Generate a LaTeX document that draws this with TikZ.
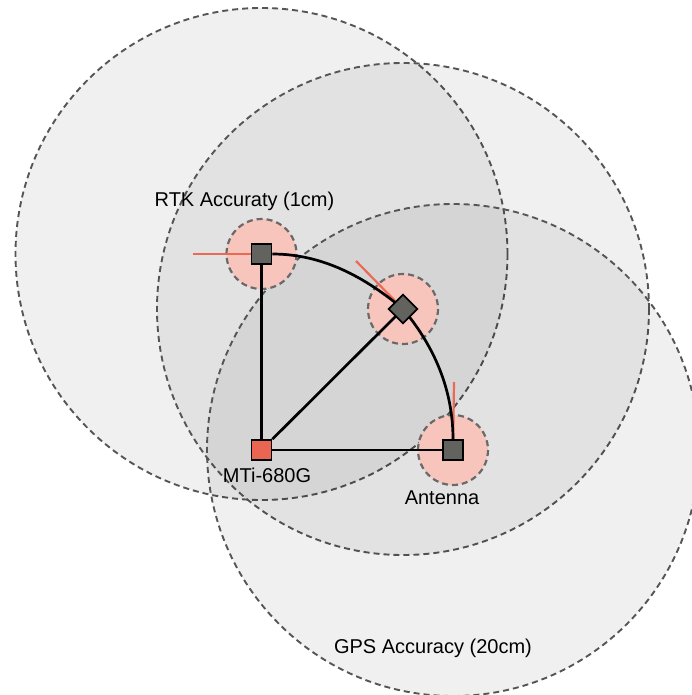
\documentclass[tikz,border=0pt]{standalone}
\usepackage{fontspec}
\setmainfont{Liberation Sans}
\begin{document}
\begin{tikzpicture}[x=1pt,y=-1pt,
  bigcirc/.style={draw={rgb,255:red,85;green,85;blue,85},line width=1.9pt,dash pattern=on 6pt off 4pt,fill=black,fill opacity=0.06},
  smallcirc/.style={draw={rgb,255:red,105;green,105;blue,105},line width=2.2pt,dash pattern=on 6pt off 4pt,fill={rgb,255:red,248;green,197;blue,189}},
  sensor/.style={draw=black,line width=1.6pt,fill={rgb,255:red,98;green,99;blue,94},minimum size=20pt,inner sep=0pt},
  imu/.style={draw=black,line width=1.6pt,fill={rgb,255:red,234;green,102;blue,82},minimum size=20pt,inner sep=0pt},
  heading/.style={draw={rgb,255:red,234;green,106;blue,85},line width=2.2pt},
  link/.style={draw=black,line width=2.7pt},
  lbl/.style={font=\fontsize{20}{24}\selectfont,inner sep=0pt}]
\useasboundingbox (0,0) rectangle (691,695);
% accuracy circles
\path[bigcirc] (261.5,254) circle (246);
\path[bigcirc] (403,309) circle (246);
\path[bigcirc] (453,450) circle (246);
\path[smallcirc] (261.5,254) circle (35);
\path[smallcirc] (403,309) circle (35);
\path[smallcirc] (453,450) circle (35);
% heading lines
\coordinate (hA) at (193,254);
\coordinate (hB) at (356,261);
\coordinate (hC) at (454,382);
\coordinate (cA) at (261.5,254);
\coordinate (cB) at (403,309);
\coordinate (cC) at (453,450);
\draw[heading] (hA) -- (cA);
\draw[heading] (hB) -- (cB);
\draw[heading] (hC) -- (cC);
% nodes
\node[sensor] (A) at (261.5,254) {};
\node[sensor,rotate=45] (B) at (403,309) {};
\node[sensor] (C) at (453,450) {};
\node[imu] (M) at (261.5,450) {};
% links
\draw[link] (A) -- (M);
\draw[link] (M) -- (C);
\draw[link] (M) -- (B);
\draw[link] (A.east) to[out=0,in=140,looseness=0.9] (B.center);
\draw[link] (B.center) to[out=-50,in=90,looseness=0.9] (C.north);
\node[sensor] at (261.5,254) {};
\node[sensor,rotate=45] at (403,309) {};
\node[sensor] at (453,450) {};
% labels
\node[lbl] (tRTK) at (244.5,201) {RTK Accuraty (1cm)};
\node[lbl] (tMTi) at (267,475.5) {MTi-680G};
\node[lbl] (tAnt) at (442,498) {Antenna};
\node[lbl] (tGPS) at (433,648) {GPS Accuracy (20cm)};
\end{tikzpicture}
\end{document}
